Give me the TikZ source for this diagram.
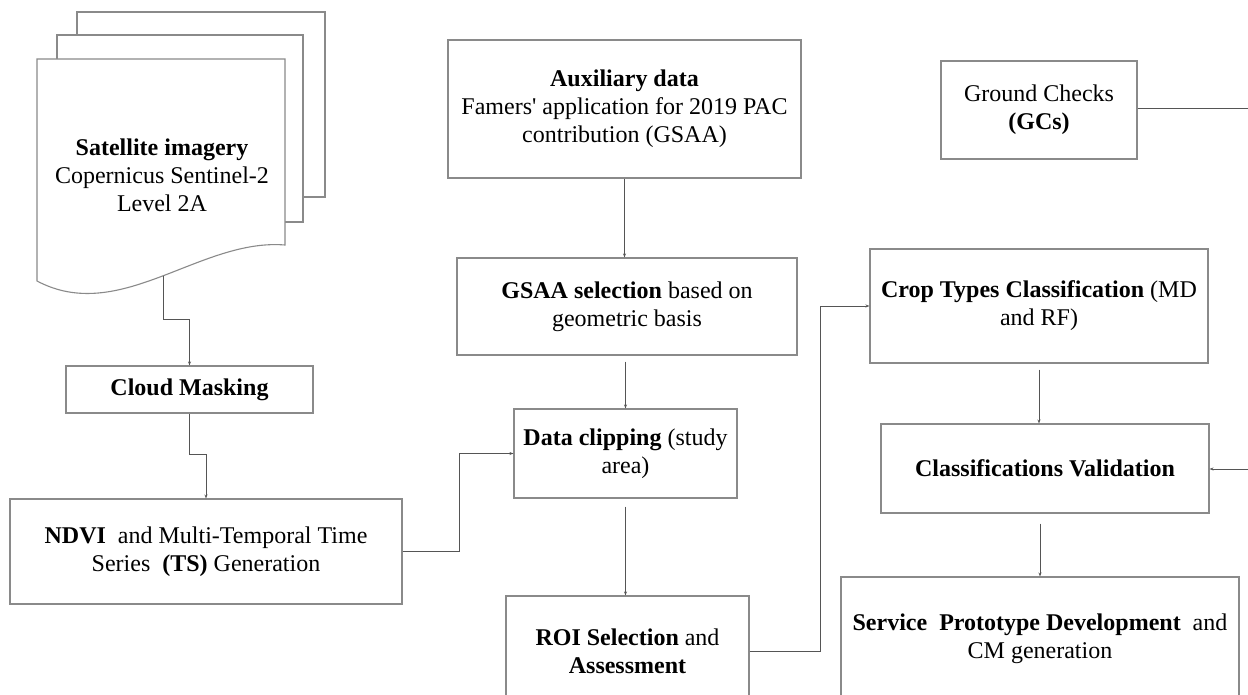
\documentclass[tikz,border=0pt]{standalone}
\usepackage{fontspec}
\setmainfont{Liberation Serif}[Ligatures=TeXOff]
\usetikzlibrary{arrows.meta}
\definecolor{boxgray}{HTML}{8A8A8A}
\definecolor{linegray}{HTML}{555555}
\tikzset{
  box/.style={draw=boxgray, line width=1.1pt, inner sep=0pt, align=center,
    font=\fontsize{24}{28}\selectfont, text=black},
  conn/.style={draw=linegray, line width=0.9pt},
  arr/.style={conn, -{Stealth[length=4pt,width=3pt]}},
  sheet/.style={draw=boxgray, line width=1.1pt, fill=white},
}
\begin{document}
\begin{tikzpicture}[x=1pt,y=-1pt]
\useasboundingbox (0,0) rectangle (1248,695);
\clip (0,0) rectangle (1248,695);
\fill[white] (0,0) rectangle (1248,695);

% satellite document stack
\draw[sheet] (77,12) rectangle (325,197);
\draw[sheet] (57,35) rectangle (303,222);
\draw[sheet] (37,59) -- (285,59) -- (285,245) .. controls (200,238) and (120,325) .. (37,281) -- cycle;
\node[font=\fontsize{24}{28}\selectfont, align=center] (sat) at (162,175)
  {\textbf{Satellite imagery}\\Copernicus Sentinel-2\\Level 2A};
\coordinate (satout) at (163,276);

% boxes
\node[box, minimum width=247, minimum height=47] (cloud) at (189.5,389.5) {\textbf{Cloud Masking}};
\node[box, minimum width=392, minimum height=105] (ndvi) at (206,551.5)
  {\textbf{NDVI}\ \ and Multi-Temporal Time\\Series\ \ \textbf{(TS)} Generation};
\node[box, minimum width=353, minimum height=138] (aux) at (624.5,109)
  {\textbf{Auxiliary data}\\Famers' application for 2019 PAC\\contribution (GSAA)};
\node[box, minimum width=340, minimum height=97] (gsaa) at (627,306.5)
  {\textbf{GSAA selection} based on\\geometric basis};
\node[box, minimum width=223, minimum height=89] (clip) at (625.5,453.5)
  {\textbf{Data clipping} (study\\area)};
\node[box, minimum width=243, minimum height=110] (roi) at (627.5,651)
  {\textbf{ROI Selection} and\\\textbf{Assessment}};
\node[box, minimum width=196, minimum height=98] (gcs) at (1039,110)
  {Ground Checks\\\textbf{(GCs)}};
\node[box, minimum width=338, minimum height=114] (crop) at (1039,306)
  {\textbf{Crop Types Classification} (MD\\and RF)};
\node[box, minimum width=328, minimum height=89] (valid) at (1045,468.5)
  {\textbf{Classifications Validation}};
\node[box, minimum width=398, minimum height=123] (serv) at (1040,638.5)
  {\textbf{Service\ \ Prototype Development}\ \ and\\CM generation};

\coordinate (gcsend) at (1249,108);
\coordinate (valin) at (1249,469);

% connectors
\draw[arr] (satout) -- ++(0,43) -| (cloud.north);
\draw[arr] (cloud.south) -- ++(0,41) -| (ndvi.north);
\draw[arr] (ndvi.east) -- ++(57,0) |- (clip.west);
\draw[arr] (aux.south) -- (aux.south |- gsaa.north);
\draw[arr, shorten <=6pt] (gsaa.south -| clip.north) -- (clip.north);
\draw[arr, shorten <=8pt] (clip.south) -- (clip.south |- roi.north);
\draw[arr] (roi.east) -- ++(71,0) |- (crop.west);
\draw[conn] (gcs.east |- gcsend) -- (gcsend);
\draw[arr, shorten <=6pt] (crop.south) -- (crop.south |- valid.north);
\draw[arr] (valin) -- (valid.east |- valin);
\draw[arr, shorten <=10pt] (serv.north |- valid.south) -- (serv.north);
\end{tikzpicture}
\end{document}
